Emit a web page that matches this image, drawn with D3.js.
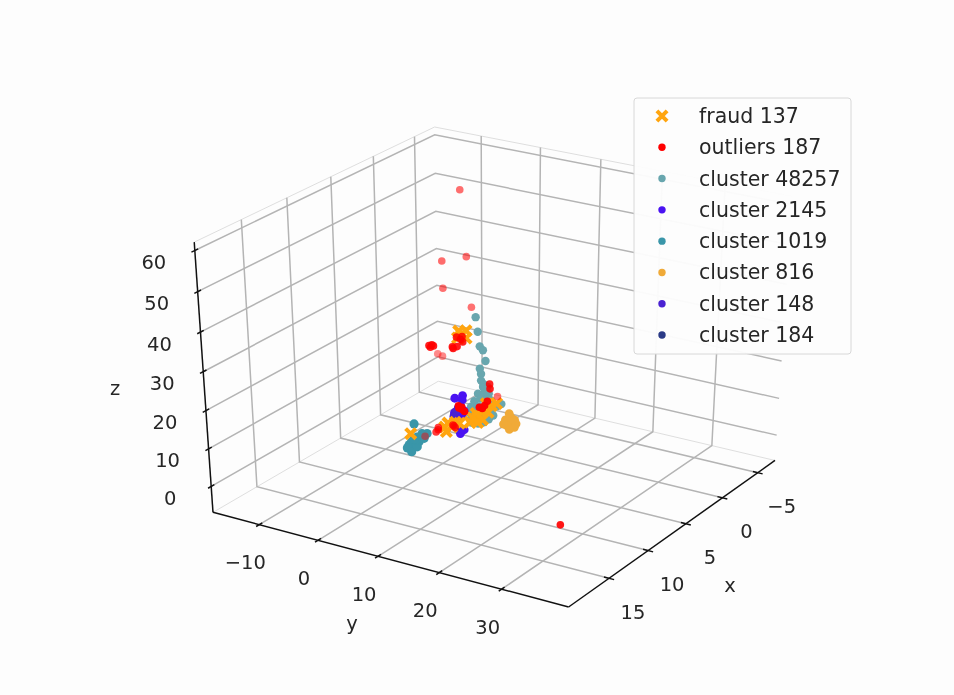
<!DOCTYPE html>
<html lang="en">
<head>
<meta charset="utf-8">
<script src="https://d3js.org/d3.v7.min.js"></script>
<style>
  body { margin: 0; background: #fdfdfd; }
  svg { display: block; filter: blur(0.6px); font-family: "DejaVu Sans", sans-serif; }
</style>
</head>
<body>
<svg id="chart" width="954" height="695"></svg>
<script>
// tick values and axis limits
var xTicks = [-5, 0, 5, 10, 15];
var yTicks = [-10, 0, 10, 20, 30];
var zTicks = [0, 10, 20, 30, 40, 50, 60];
var xLim = [-7.5, 20];
var yLim = [-18, 40.5];
var zLim = [-7, 62];

// points are [x, y, z]
var fraud = [[7,5.7,33],[6.7,6.5,33],[7.3,6.6,33],[7.8,8,33],[8.1,7,33],
  [6.1,7.5,10],[6.4,7.1,10],[3.8,5.9,10],[5.2,7.1,10],[3.9,6.9,10],[5.6,6.6,10],[7.1,7.6,10],[6.3,8.6,10],[5,7.8,10],[6.9,8.6,10],[3.4,7.1,10],
  [5.3,1.4,5],[6,1.8,5],[5.7,2.6,5],[4.9,2.1,5],[6.6,2.9,5],[4.9,2.8,5],[5.5,-4.8,0]];
var outliers = [[-4.1,-9.1,52],[-0.5,-7.35,38],[-2.1,-5.35,38],[0.2,-6.25,32],[-0.2,-1.95,28],
  [7.7,7.2,33],[8,6.7,33],[8.5,8.4,33],[9.6,8.2,33],[9.4,8.7,33],[10,5.4,33],[10.4,5.7,33],[10.1,5.8,33],[8.2,7.6,33],[9.8,8.6,33],[10.2,5.2,33],
  [0.7,-6.6,15],[0.9,-5.5,15],
  [9.2,13.7,25],[9.9,14.7,25],[13.4,14.3,25],[13.8,15.4,25],[13.7,14.8,25],[14,16.1,25],[12.5,17.3,25],[11.8,16.8,25],[13,17.6,25],[13.5,15,25],[12.9,17,25],
  [10.4,6.8,12],[10.8,7,12],[9.2,7.6,12],[9.5,8.4,12],[10.1,6.4,12],[9.3,7.9,12],
  [4.3,-4,-2],[13.1,30.3,0],[2.3,5.8,10]];
var cluster48257 = [[1.9,1.6,29.1],[1.8,1.8,25.2],[1.7,2,21.3],[1.6,2.4,20.3],[1.5,2.7,17.4],[1.7,2,15.3],[1.7,2.2,14],[1.7,2.2,12.2],
  [1.6,2.5,11.2],[1.4,2.9,10.4],[1.6,2.4,10.4],[1.8,1.8,8.6],[1.6,2.5,8.6],[1.4,3.1,8.6],[1.7,2.1,7.3],[1.5,2.8,7],
  [1.9,1.3,6.5],[2.1,1,5.2],[1.8,1.9,5.2],[1.5,2.7,5.2],[0.9,4.6,5.7],[1.1,4.1,5.2],[2.1,0.7,3.4],[1.9,1.6,3.4],
  [1.6,2.4,3.4],[1.3,3.3,3.9],[2.1,1,1.8],[1.8,1.8,0.5],[1.6,2.5,0.8],[2.1,1,0.8],[1.2,3.6,2.6],
  [1.5,2.6,9.6],[1.3,3.3,6.8],[1.9,1.4,4.7],[1.7,2.1,2.1],[1.4,3.1,1.6],[1.2,3.5,5.7]];
var cluster2145 = [[1.3,-2.9,5],[0.6,-2.5,5],[1.3,-1.6,5],[2.3,-0.5,5],[3.55,0.1,5],[3.4,0.6,5],[3.7,1.6,5],[3.9,0.8,5],
  [6.1,4.7,5],[6.4,5,5],[5.5,3.3,5],[2.9,0.9,5],[5.7,4.7,5],[2.7,-0.4,5]];
var cluster1019 = [[6.9,-2.2,5.5],[4.9,-2.8,0],[5.6,-2.5,0],[5.8,-3.3,0],[6.7,-3,0],[7.2,-2.7,0],[7.1,-2.1,0],[6.4,-2.1,0],
  [7.6,-1.9,0],[7.7,-2.3,0],[8.1,-1,0],[7.2,-1.3,0],[5.7,-2.2,0],[6.3,-2.8,0],[5.1,-3.4,0],[6.2,-3.3,0]];
var cluster816 = [[0.1,5.1,0],[0,4.1,0],[-0.7,4,0],[-0.3,5.3,0],[0.6,6,0],[0.8,5.4,0],[0.8,6.7,0],[1.3,6.5,0],
  [0.2,6.2,0],[0.7,4.7,0],[-0.4,4.8,0],[-1.1,3.3,0]];
var cluster148 = [[3.3,0,5],[4.1,0.7,5],[2.5,-0.6,5]];
var cluster184 = [[1.7,2.2,1.5],[1.6,2.4,2.5]];

var legendNames = ["fraud 137", "outliers 187", "cluster 48257", "cluster 2145", "cluster 1019", "cluster 816", "cluster 148", "cluster 184"];
var legendColors = ["#ffa50f", "#ff0000", "#68a6ae", "#4a12f2", "#3a96a9", "#f0aa38", "#4a22d2", "#2a3a86"];

var svg = d3.select("#chart");

// same camera maths as mplot3d: unit cube, look-at, perspective
var elev = 30 * Math.PI / 180,
    azim = 32 * Math.PI / 180,
    dist = 8;
var n = [Math.cos(elev) * Math.cos(azim), Math.cos(elev) * Math.sin(azim), Math.sin(elev)];
var uLen = Math.hypot(n[0], n[1]);
var u = [-n[1] / uLen, n[0] / uLen, 0];
var v = [n[1] * u[2] - n[2] * u[1], n[2] * u[0] - n[0] * u[2], n[0] * u[1] - n[1] * u[0]];

var nx = d3.scaleLinear().domain(xLim).range([0, 1]),
    ny = d3.scaleLinear().domain(yLim).range([0, 1]),
    nz = d3.scaleLinear().domain(zLim).range([0, 1]);

function dot(a, b) { return a[0] * b[0] + a[1] * b[1] + a[2] * b[2]; }

function camera(p) {
    var r = [nx(p[0]) - 0.5, ny(p[1]) - 0.5, nz(p[2]) - 0.5];
    var depth = dot(n, r);
    var w = dist - depth;
    return {a: dot(u, r) / w, b: dot(v, r) / w, depth: depth};
}

// screen scales pinned on the box corners
var sx = d3.scaleLinear()
    .domain([camera([xLim[1], yLim[0], zLim[0]]).a, camera([xLim[0], yLim[1], zLim[0]]).a])
    .range([213, 775]);
var sy = d3.scaleLinear()
    .domain([camera([xLim[1], yLim[1], zLim[0]]).b, camera([xLim[0], yLim[0], zLim[1]]).b])
    .range([607, 127]);

function project(p) {
    var c = camera(p);
    return [sx(c.a), sy(c.b)];
}

var line = d3.line();
var gridG = svg.append("g");

// pane edges
var paneEdges = gridG.append("g").attr("fill", "none").attr("stroke", "#dedede").attr("stroke-width", 1);
[[[xLim[1], yLim[0], zLim[1]], [xLim[0], yLim[0], zLim[1]]],
 [[xLim[0], yLim[0], zLim[1]], [xLim[0], yLim[1], zLim[1]]],
 [[xLim[1], yLim[0], zLim[0]], [xLim[0], yLim[0], zLim[0]]],
 [[xLim[0], yLim[0], zLim[0]], [xLim[0], yLim[1], zLim[0]]]].forEach(function(e) {
    paneEdges.append("path").attr("d", line(e.map(project)));
});

// grid lines on floor and two walls
var gridColor = "#b4b4b4", gridWidth = 1.5;
function gridLine(points) {
    gridG.append("path")
        .attr("d", line(points.map(project)))
        .attr("fill", "none")
        .attr("stroke", gridColor)
        .attr("stroke-width", gridWidth);
}
xTicks.forEach(function(t) {
    gridLine([[t, yLim[1], zLim[0]], [t, yLim[0], zLim[0]], [t, yLim[0], zLim[1]]]);
});
yTicks.forEach(function(t) {
    gridLine([[xLim[1], t, zLim[0]], [xLim[0], t, zLim[0]], [xLim[0], t, zLim[1]]]);
});
zTicks.forEach(function(t) {
    gridLine([[xLim[1], yLim[0], t], [xLim[0], yLim[0], t], [xLim[0], yLim[1], t]]);
});

// axis lines and ticks
var axisG = svg.append("g").attr("fill", "none").attr("stroke", "#111").attr("stroke-width", 1.5);
function axisLine(p, q) {
    axisG.append("path").attr("d", line([project(p), project(q)]));
}
axisLine([xLim[1], yLim[0], zLim[0]], [xLim[1], yLim[1], zLim[0]]);
axisLine([xLim[1], yLim[1], zLim[0]], [xLim[0], yLim[1], zLim[0]]);
axisLine([xLim[1], yLim[0], zLim[0]], [xLim[1], yLim[0], zLim[1]]);
xTicks.forEach(function(t) { axisLine([t, yLim[1] - 0.8, zLim[0]], [t, yLim[1] + 0.8, zLim[0]]); });
yTicks.forEach(function(t) { axisLine([xLim[1] + 0.35, t, zLim[0]], [xLim[1] - 0.35, t, zLim[0]]); });
zTicks.forEach(function(t) { axisLine([xLim[1] + 0.35, yLim[0], t], [xLim[1] - 0.35, yLim[0], t]); });

// tick labels and axis names
var labelG = svg.append("g").attr("fill", "#262626").attr("font-size", 19.5)
    .attr("text-anchor", "middle").attr("dominant-baseline", "central");
var fmt = d3.format("d");
function tickLabels(ticks, at, dx, dy) {
    labelG.selectAll(null).data(ticks).enter().append("text")
        .attr("x", function(t) { return project(at(t))[0] + dx; })
        .attr("y", function(t) { return project(at(t))[1] + dy; })
        .text(fmt);
}
tickLabels(xTicks, function(t) { return [t, yLim[1], zLim[0]]; }, 24, 34);
tickLabels(yTicks, function(t) { return [xLim[1], t, zLim[0]]; }, -14, 38);
tickLabels(zTicks, function(t) { return [xLim[1], yLim[0], t]; }, -41, 12);
labelG.append("text").attr("x", 730).attr("y", 585).text("x");
labelG.append("text").attr("x", 352).attr("y", 623).text("y");
labelG.append("text").attr("x", 115).attr("y", 388).text("z");

// scatter, painted in the order the picture stacks them
var dotG = svg.append("g");
function drawDots(points, color, r, shaded) {
    var depths = points.map(function(p) { return camera(p).depth; });
    var fade = d3.scaleLinear().domain(d3.extent(depths)).range([0.45, 1]);
    dotG.selectAll(null).data(points).enter().append("circle")
        .attr("cx", function(p) { return project(p)[0]; })
        .attr("cy", function(p) { return project(p)[1]; })
        .attr("r", r)
        .attr("fill", color)
        .attr("fill-opacity", function(p) { return shaded ? fade(camera(p).depth) : 1; });
}
drawDots(cluster184, legendColors[7], 3.4, false);
drawDots(cluster48257, legendColors[2], 4.2, false);
drawDots(cluster1019, legendColors[4], 4.6, false);
drawDots(cluster2145, legendColors[3], 4.4, false);
drawDots(cluster148, legendColors[6], 4, false);
drawDots(cluster816, legendColors[5], 4.4, false);

var cross = d3.symbol().type(d3.symbolX).size(70);
function crossMark(sel, color) {
    sel.attr("d", cross).attr("fill", "none").attr("stroke", color).attr("stroke-width", 4);
}
dotG.selectAll(null).data(fraud).enter().append("path")
    .attr("transform", function(p) { return "translate(" + project(p) + ")"; })
    .call(crossMark, legendColors[0]);

drawDots(outliers, legendColors[1], 3.8, true);

// legend
var legendG = svg.append("g");
legendG.append("rect")
    .attr("x", 634).attr("y", 98).attr("width", 217).attr("height", 256).attr("rx", 3)
    .attr("fill", "#fdfdfd").attr("fill-opacity", 0.96)
    .attr("stroke", "#d8d8d8").attr("stroke-width", 1);
var rowY = d3.scalePoint().domain(legendNames).range([116, 335]);
legendG.selectAll("text").data(legendNames).enter().append("text")
    .attr("x", 699)
    .attr("y", function(d) { return rowY(d); })
    .attr("dominant-baseline", "central")
    .attr("font-size", 20.5)
    .attr("fill", "#262626")
    .text(function(d) { return d; });
legendG.selectAll("circle").data(legendNames.slice(1)).enter().append("circle")
    .attr("cx", 662)
    .attr("cy", function(d) { return rowY(d); })
    .attr("r", 3.7)
    .attr("fill", function(d) { return legendColors[legendNames.indexOf(d)]; });
legendG.append("path")
    .attr("transform", "translate(662," + rowY(legendNames[0]) + ")")
    .call(crossMark, legendColors[0]);
</script>
</body>
</html>
